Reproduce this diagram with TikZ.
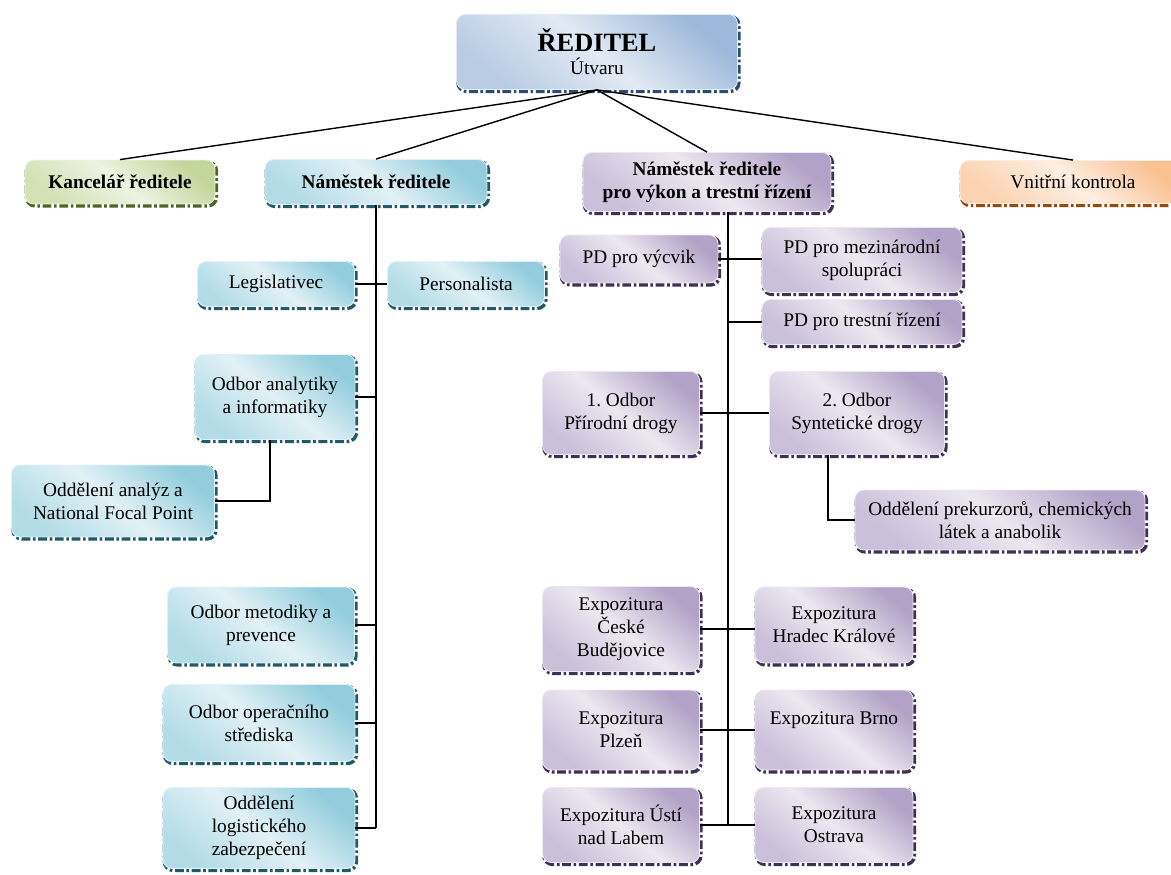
\documentclass[tikz,border=0pt]{standalone}
\usepackage{fontspec}
\setmainfont{Liberation Serif}
\usepackage{tikz}
\usetikzlibrary{positioning, calc}
\definecolor{steelL}{HTML}{E2EAF4}
\definecolor{steelD}{HTML}{9DB8DA}
\definecolor{steelM}{HTML}{B9CCE4}
\definecolor{steelE}{HTML}{2C4A72}
\definecolor{greenL}{HTML}{EEF3E2}
\definecolor{greenD}{HTML}{C3D69B}
\definecolor{greenM}{HTML}{D3E1B5}
\definecolor{greenE}{HTML}{4F6228}
\definecolor{blueL}{HTML}{E2F1F6}
\definecolor{blueD}{HTML}{93CDDD}
\definecolor{blueM}{HTML}{B3DCE7}
\definecolor{blueE}{HTML}{215968}
\definecolor{purpL}{HTML}{ECE8F1}
\definecolor{purpD}{HTML}{B3A2C7}
\definecolor{purpM}{HTML}{CBC0DA}
\definecolor{purpE}{HTML}{3F3151}
\definecolor{orngL}{HTML}{FEEEE2}
\definecolor{orngD}{HTML}{FAC090}
\definecolor{orngM}{HTML}{FBD3B3}
\definecolor{orngE}{HTML}{984807}
\newcommand{\Unit}{\fontsize{11}{13}\selectfont}
\newcommand{\Chief}{\fontsize{15}{17}\selectfont\bfseries}
\tikzset{
    unit/.style={rounded corners=5pt, align=center, inner sep=2pt, font=\Unit,
      draw=#1L, line width=0.5pt,
      top color=#1D, bottom color=#1M, middle color=#1L, shading angle=-40,
      preaction={draw=#1E, line width=2pt, dash pattern=on 5pt off 1.5pt on 1.5pt off 1.5pt,
        transform canvas={shift={(0.8pt,-1.1pt)}}}},
    head/.style={font=\Unit\bfseries},
    link/.style={draw=black, line width=0.8pt},
}
\begin{document}
\begin{tikzpicture}[x=0.02cm, y=-0.02cm]
    \path[use as bounding box] (0,0) rectangle (1171,875);
    \clip (0,0) rectangle (1171,875);

    \node[unit=steel, minimum width=5.62cm, minimum height=1.5cm] (reditel) at (597,52) {{\Chief ŘEDITEL}\\Útvaru};

    \node[unit=green, head, minimum width=3.8cm, minimum height=0.88cm] (kancelar) at (120,182) {Kancelář ředitele};
    \node[unit=blue, head, minimum width=4.44cm, minimum height=0.9cm] (namestek) at (376,182) {Náměstek ředitele};
    \node[unit=purp, head, minimum width=4.96cm, minimum height=1.18cm] (vykon) at (707,182) {Náměstek ředitele\\pro výkon a trestní řízení};
    \node[unit=orng, minimum width=4.52cm, minimum height=0.86cm] (kontrola) at (1073,182) {Vnitřní kontrola};

    \node[unit=blue, minimum width=3.14cm, minimum height=0.9cm] (legis) at (276,284) {Legislativec};
    \node[unit=blue, minimum width=3.14cm, minimum height=0.9cm] (personal) at (466,284) {Personalista};
    \node[unit=blue, minimum width=3.2cm, minimum height=1.7cm] (analytiky) at (275,397) {Odbor analytiky\\a informatiky};
    \node[unit=blue, minimum width=4.06cm, minimum height=1.44cm] (analyz) at (113,501) {Oddělení analýz a\\National Focal Point};
    \node[unit=blue, minimum width=3.74cm, minimum height=1.52cm] (metodiky) at (261,625) {Odbor metodiky a\\prevence};
    \node[unit=blue, minimum width=3.84cm, minimum height=1.54cm] (operacni) at (259,723) {Odbor operačního\\střediska};
    \node[unit=blue, minimum width=3.84cm, minimum height=1.62cm] (logist) at (259,828) {Oddělení\\logistického\\zabezpečení};

    \node[unit=purp, minimum width=3.16cm, minimum height=0.96cm] (vycvik) at (639,259) {PD pro výcvik};
    \node[unit=purp, minimum width=4cm, minimum height=1.3cm] (mezinar) at (862,260) {PD pro mezinárodní\\spolupráci};
    \node[unit=purp, minimum width=4cm, minimum height=0.9cm] (trestni) at (862,322) {PD pro trestní řízení};
    \node[unit=purp, minimum width=3.14cm, minimum height=1.66cm] (odbor1) at (621,413) {1.\ Odbor\\Přírodní drogy};
    \node[unit=purp, minimum width=3.5cm, minimum height=1.66cm] (odbor2) at (857,413) {2.\ Odbor\\Syntetické drogy};
    \node[unit=purp, minimum width=5.8cm, minimum height=1.2cm] (prek) at (1000,520) {Oddělení prekurzorů, chemických\\látek a anabolik};

    \node[unit=purp, minimum width=3.14cm, minimum height=1.7cm] (budej) at (621,629) {Expozitura\\České\\Budějovice};
    \node[unit=purp, minimum width=3.16cm, minimum height=1.52cm] (hradec) at (834,625) {Expozitura\\Hradec Králové};
    \node[unit=purp, minimum width=3.14cm, minimum height=1.6cm] (plzen) at (621,730) {Expozitura\\Plzeň};
    \node[unit=purp, minimum width=3.16cm, minimum height=1.6cm] (brno) at (834,730) {Expozitura Brno\\\mbox{}};
    \node[unit=purp, minimum width=3.14cm, minimum height=1.5cm] (usti) at (621,825) {Expozitura Ústí\\nad Labem};
    \node[unit=purp, minimum width=3.16cm, minimum height=1.5cm] (ostrava) at (834,825) {Expozitura\\Ostrava};

    \foreach \n in {kancelar, namestek, vykon, kontrola}
      \draw[link] (reditel.south) -- (\n.north);

    \draw[link] (namestek.south) -- (namestek.south |- logist.east);
    \draw[link] (legis.east) -- (personal.west);
    \foreach \n in {analytiky, metodiky, operacni, logist}
      \draw[link] (\n.east) -- (\n.east -| namestek.south);
    \draw[link] ([xshift=-0.1cm]analytiky.south) |- (analyz.east);

    \coordinate (rtop) at ([xshift=0.42cm]vykon.south);
    \draw[link] (rtop) -- (rtop |- usti.east);
    \draw[link] (vycvik.east) -- (vycvik.east -| mezinar.west);
    \draw[link] (trestni.west) -- (trestni.west -| rtop);
    \draw[link] (odbor1.east) -- (odbor2.west);
    \draw[link] ([xshift=-0.58cm]odbor2.south) |- (prek.west);
    \foreach \a/\b in {budej/hradec, plzen/brno, usti/ostrava}
      \draw[link] (\a.east) -- (\a.east -| \b.west);
\end{tikzpicture}
\end{document}
